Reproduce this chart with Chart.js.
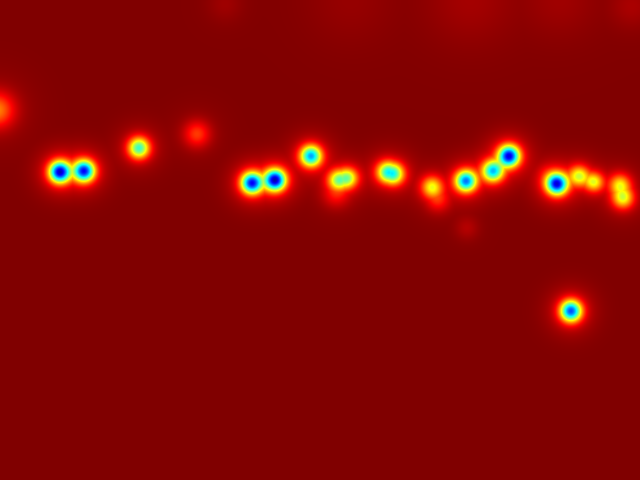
<!DOCTYPE html>
<html>
<head>
<meta charset="utf-8">
<style>
html,body{margin:0;padding:0;background:#800000;overflow:hidden;}
#wrap{width:640px;height:480px;}
</style>
<script src="https://cdn.jsdelivr.net/npm/chart.js@4.4.0/dist/chart.umd.min.js"></script>
</head>
<body>
<div id="wrap"><canvas id="c" width="640" height="480"></canvas></div>
<script>
// Hotspot centres (image coordinates), peak intensity (0..1) and spread
const blobX      = [-3, 60, 84, 139, 197, 252, 275, 311, 338, 348, 336, 387, 394, 432, 438, 466, 493, 509, 557, 550, 579, 594, 620, 623, 571, 467, 225, 350, 470, 560, 632];
const blobY      = [110, 172, 171, 148, 134, 183, 180, 156, 180, 178, 194, 172, 174, 187, 200, 181, 171, 156, 184, 177, 176, 182, 185, 198, 311, 228, 4, 0, 0, 0, 6];
const blobPeak   = [0.25, 0.92, 0.86, 0.57, 0.18, 0.86, 0.93, 0.71, 0.42, 0.42, 0.12, 0.47, 0.47, 0.37, 0.14, 0.75, 0.66, 0.89, 0.87, 0.16, 0.39, 0.37, 0.34, 0.38, 0.80, 0.05, 0.03, 0.022, 0.035, 0.03, 0.04];
const blobSpread = [12, 7.3, 7.3, 7.3, 9, 7.3, 7.3, 7.3, 7, 7, 9, 7.3, 7.3, 7.3, 8, 7.3, 7.3, 7.3, 7.3, 8, 7, 6.5, 7.3, 7.3, 7.3, 8, 12, 30, 30, 25, 15];

const points = blobX.map((x, i) => ({x: x, y: blobY[i]}));

function jet(u) {
  const c = v => Math.max(0, Math.min(1, v));
  return [c(1.5 - Math.abs(4*u - 3)), c(1.5 - Math.abs(4*u - 2)), c(1.5 - Math.abs(4*u - 1))];
}

const heatPlugin = {
  id: 'heat',
  beforeDatasetsDraw(chart) {
    const ctx = chart.ctx;
    const a = chart.chartArea;
    const xs = chart.scales.x, ys = chart.scales.y;
    const w = Math.round(a.right - a.left), h = Math.round(a.bottom - a.top);
    const fMax = new Float32Array(w*h);
    const fSum = new Float32Array(w*h);
    const unit = Math.abs(xs.getPixelForValue(1) - xs.getPixelForValue(0));
    for (let i = 0; i < blobX.length; i++) {
      const cx = xs.getPixelForValue(blobX[i]) - a.left;
      const cy = ys.getPixelForValue(blobY[i]) - a.top;
      const s = blobSpread[i]*unit, s2 = s*2.2;
      const A = blobPeak[i];
      const R = s2*4;
      const x0 = Math.max(0, Math.floor(cx - R)), x1 = Math.min(w-1, Math.ceil(cx + R));
      const y0 = Math.max(0, Math.floor(cy - R)), y1 = Math.min(h-1, Math.ceil(cy + R));
      const k1 = 1/(2*s*s), k2 = 1/(2*s2*s2);
      for (let y = y0; y <= y1; y++) {
        const dy = y + 0.5 - cy;
        for (let x = x0; x <= x1; x++) {
          const dx = x + 0.5 - cx;
          const d = dx*dx + dy*dy;
          const v = A*(0.88*Math.exp(-d*k1) + 0.12*Math.exp(-d*k2));
          const idx = y*w + x;
          fSum[idx] += v;
          if (v > fMax[idx]) fMax[idx] = v;
        }
      }
    }
    const img = ctx.createImageData(w, h);
    const dat = img.data;
    for (let p = 0; p < w*h; p++) {
      const v = Math.min(1, fMax[p] + 0.5*(fSum[p] - fMax[p]));
      const col = jet(1 - v);
      dat[p*4] = Math.round(col[0]*255);
      dat[p*4+1] = Math.round(col[1]*255);
      dat[p*4+2] = Math.round(col[2]*255);
      dat[p*4+3] = 255;
    }
    ctx.putImageData(img, a.left, a.top);
  }
};

new Chart(document.getElementById('c'), {
  type: 'scatter',
  data: { datasets: [{ data: points, pointRadius: 0, pointHoverRadius: 0 }] },
  options: {
    responsive: false,
    animation: false,
    events: [],
    layout: { padding: 0 },
    plugins: { legend: { display: false }, tooltip: { enabled: false } },
    scales: {
      x: { type: 'linear', min: 0, max: 640, display: false },
      y: { type: 'linear', min: 0, max: 480, reverse: true, display: false }
    }
  },
  plugins: [heatPlugin]
});
</script>
</body>
</html>
